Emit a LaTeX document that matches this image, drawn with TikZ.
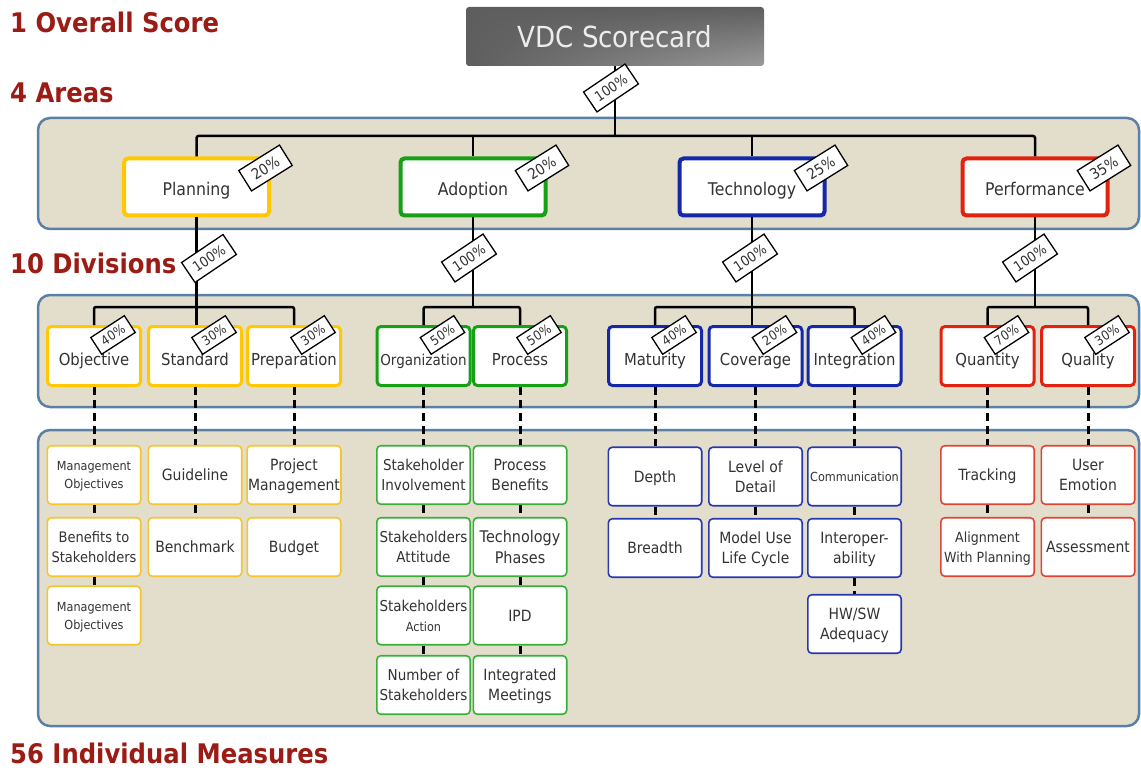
\documentclass[tikz,border=0pt]{standalone}
\usepackage{fontspec}
\setmainfont{DejaVu Sans}[FakeStretch=0.9]
\usetikzlibrary{calc,shadings}
\definecolor{hdr}{HTML}{9B1B15}
\definecolor{cfill}{HTML}{E3DDCC}
\definecolor{cline}{HTML}{5B80A8}
\definecolor{cyel}{HTML}{FFC800}
\definecolor{cgrn}{HTML}{16A016}
\definecolor{cblu}{HTML}{1428A8}
\definecolor{cred}{HTML}{E0220E}
\definecolor{myel}{HTML}{F5C530}
\definecolor{mgrn}{HTML}{38B038}
\definecolor{mblu}{HTML}{2838B0}
\definecolor{mred}{HTML}{E04434}
\definecolor{txt}{HTML}{333333}
\definecolor{vdcA}{HTML}{5E5E5E}
\definecolor{vdcB}{HTML}{9A9A9A}
\newcommand\fsz[2]{\fontsize{#1}{#2}\selectfont}
\begin{document}
\begin{tikzpicture}[x=1pt,y=-1pt,
  container/.style={draw=cline, line width=2.5pt, fill=cfill, rounded corners=12pt},
  hdrtext/.style={anchor=base west, text=hdr, font=\fsz{27}{32}\bfseries, inner sep=0pt},
  areabox/.style={draw=#1, line width=4pt, fill=white, rounded corners=4pt, minimum width=145pt, minimum height=57pt, font=\fsz{17.5}{21}, text=txt, text height=18pt, text depth=0pt},
  divbox/.style={draw=#1, line width=3pt, fill=white, rounded corners=4pt, minimum width=93pt, minimum height=59pt, font=\fsz{16.5}{20}, inner sep=1pt, text=txt, text height=19pt, text depth=0pt},
  measbox/.style={draw=#1, line width=1.6pt, fill=white, rounded corners=4pt, minimum width=93.4pt, minimum height=58.5pt, font=\fsz{15.5}{20}, align=center, inner sep=1pt, text=txt, text depth=0pt},
  tagbase/.style={draw=black, line width=1.3pt, fill=white, inner sep=0pt, text=black!80},
  areatag/.style={tagbase, rotate=32, minimum width=48pt, minimum height=24pt, font=\fsz{15}{17}},
  widetag/.style={tagbase, rotate=34, minimum width=50pt, minimum height=24pt, font=\fsz{14}{16}},
  divtag/.style={tagbase, rotate=33, minimum width=40pt, minimum height=20pt, font=\fsz{13}{15}},
  bus/.style={line width=2.5pt, black},
  dashline/.style={line width=3pt, black, dash pattern=on 8pt off 5pt}
]
\useasboundingbox (0,0) rectangle (1141,770);

% headings
\node[hdrtext] (h1) at (10,33) {1 Overall Score};
\node[hdrtext] (h2) at (10,103) {4 Areas};
\node[hdrtext] (h3) at (10,273) {10 Divisions};
\node[hdrtext] (h4) at (10,763) {56 Individual Measures};

% containers
\draw[container] (38,118) rectangle (1139,229);
\draw[container] (38,295) rectangle (1139,407);
\draw[container] (38,430) rectangle (1139,726);

% top box
\node[shade, upper left=vdcA, upper right=vdcA, lower left=vdcA, lower right=vdcB,
      rounded corners=3pt, minimum width=298pt, minimum height=59pt,
      font=\fsz{29}{34}, text=white!93!black] (vdc) at (615,36.5) {VDC Scorecard};

% areas
\node[areabox=cyel] (planning) at (196.5,187) {Planning};
\node[areabox=cgrn] (adoption) at (473,187) {Adoption};
\node[areabox=cblu] (technology) at (752,187) {Technology};
\node[areabox=cred] (performance) at (1035,187) {Performance};

% divisions
\node[divbox=cyel] (objective) at (94,356) {Objective};
\node[divbox=cyel] (standard) at (195,356) {Standard};
\node[divbox=cyel] (preparation) at (294,356) {Preparation};
\node[divbox=cgrn, font=\fsz{15}{18}] (organization) at (423.5,356) {Organization};
\node[divbox=cgrn] (process) at (520,356) {Process};
\node[divbox=cblu] (maturity) at (655,356) {Maturity};
\node[divbox=cblu] (coverage) at (755.5,356) {Coverage};
\node[divbox=cblu] (integration) at (854.5,356) {Integration};
\node[divbox=cred] (quantity) at (987.5,356) {Quantity};
\node[divbox=cred] (quality) at (1088,356) {Quality};

% measures: planning
\node[measbox=myel, font=\fsz{12.5}{18}] (obj1) at (94,475) {Management\\Objectives};
\node[measbox=myel, font=\fsz{14.5}{20}] (obj2) at (94,547) {Benefits to\\Stakeholders};
\node[measbox=myel, font=\fsz{12.5}{18}] (obj3) at (94,615.5) {Management\\Objectives};
\node[measbox=myel] (std1) at (195,475) {Guideline};
\node[measbox=myel] (std2) at (195,547) {Benchmark};
\node[measbox=myel] (prep1) at (294,475) {Project\\Management};
\node[measbox=myel] (prep2) at (294,547) {Budget};
% adoption
\node[measbox=mgrn, font=\fsz{15}{20}] (org1) at (423.5,475) {Stakeholder\\Involvement};
\node[measbox=mgrn, font=\fsz{15}{20}] (org2) at (423.5,547) {Stakeholders\\Attitude};
\node[measbox=mgrn, font=\fsz{15}{20}] (org3) at (423.5,615.5) {Stakeholders\\{\fsz{12.5}{15}Action}};
\node[measbox=mgrn, font=\fsz{15}{20}] (org4) at (423.5,685) {Number of\\Stakeholders};
\node[measbox=mgrn] (proc1) at (520,475) {Process\\Benefits};
\node[measbox=mgrn, font=\fsz{16}{21}] (proc2) at (520,547) {Technology\\Phases};
\node[measbox=mgrn] (proc3) at (520,615.5) {IPD};
\node[measbox=mgrn] (proc4) at (520,685) {Integrated\\Meetings};
% technology
\node[measbox=mblu] (mat1) at (655,476.5) {Depth};
\node[measbox=mblu] (mat2) at (655,548) {Breadth};
\node[measbox=mblu] (cov1) at (755.5,476.5) {Level of\\Detail};
\node[measbox=mblu] (cov2) at (755.5,548) {Model Use\\Life Cycle};
\node[measbox=mblu, font=\fsz{12.5}{16}] (int1) at (854.5,476.5) {Communication};
\node[measbox=mblu] (int2) at (854.5,548) {Interoper-\\ability};
\node[measbox=mblu] (int3) at (854.5,624) {HW/SW\\Adequacy};
% performance
\node[measbox=mred] (qty1) at (987.5,475) {Tracking};
\node[measbox=mred, font=\fsz{14}{20}] (qty2) at (987.5,547) {Alignment\\With Planning};
\node[measbox=mred] (qual1) at (1088,475) {User\\Emotion};
\node[measbox=mred] (qual2) at (1088,547) {Assessment};

% solid connectors
\coordinate (topbus) at (615,136);
\draw[bus] (vdc.south) -- (topbus);
\draw[bus, rounded corners=2pt] (planning.north) |- (topbus) -| (performance.north);
\draw[bus] (adoption.north) -- (adoption.north |- topbus);
\draw[bus] (technology.north) -- (technology.north |- topbus);

\coordinate (pbus) at (196.5,307);
\coordinate (abus) at (473,307);
\coordinate (tbus) at (752,307);
\coordinate (fbus) at (1035,307);
\draw[bus] (planning.south) -- (planning.south |- standard.north);
\draw[bus, rounded corners=2pt] (objective.north) |- (pbus) -| (preparation.north);
\draw[bus] (adoption.south) -- (abus);
\draw[bus, rounded corners=2pt] (organization.north) |- (abus) -| (process.north);
\draw[bus] (technology.south) -- (technology.south |- coverage.north);
\draw[bus, rounded corners=2pt] (maturity.north) |- (tbus) -| (integration.north);
\draw[bus] (performance.south) -- (fbus);
\draw[bus, rounded corners=2pt] (quantity.north) |- (fbus) -| (quality.north);

% dashed connectors
\foreach \a/\b in {objective/obj1, obj1/obj2, obj2/obj3, standard/std1, std1/std2,
  preparation/prep1, prep1/prep2, organization/org1, org1/org2, org2/org3, org3/org4,
  process/proc1, proc1/proc2, proc2/proc3, proc3/proc4, maturity/mat1, mat1/mat2,
  coverage/cov1, cov1/cov2, integration/int1, int1/int2, int2/int3,
  quantity/qty1, qty1/qty2, quality/qual1, qual1/qual2}
  \draw[dashline] (\a.south) -- (\b.north);

% percentage tags
\node[widetag] (t0) at (611,88) {100\%};
\node[areatag] (ta1) at ($(planning.north east)+(-5.5,11.5)$) {20\%};
\node[areatag] (ta2) at ($(adoption.north east)+(-5.5,11.5)$) {20\%};
\node[areatag] (ta3) at ($(technology.north east)+(-5.5,11.5)$) {25\%};
\node[areatag] (ta4) at ($(performance.north east)+(-5.5,11.5)$) {35\%};
\node[widetag] (tb1) at (209,258.5) {100\%};
\node[widetag] (tb2) at (469,258) {100\%};
\node[widetag] (tb3) at (750,258) {100\%};
\node[widetag] (tb4) at (1030,258) {100\%};
\node[divtag] (td1) at ($(objective.north)+(19,10)$) {40\%};
\node[divtag] (td2) at ($(standard.north)+(19,10)$) {30\%};
\node[divtag] (td3) at ($(preparation.north)+(19,10)$) {30\%};
\node[divtag] (td4) at ($(organization.north)+(19,10)$) {50\%};
\node[divtag] (td5) at ($(process.north)+(19,10)$) {50\%};
\node[divtag] (td6) at ($(maturity.north)+(19,10)$) {40\%};
\node[divtag] (td7) at ($(coverage.north)+(19,10)$) {20\%};
\node[divtag] (td8) at ($(integration.north)+(19,10)$) {40\%};
\node[divtag] (td9) at ($(quantity.north)+(19,10)$) {70\%};
\node[divtag] (td10) at ($(quality.north)+(19,10)$) {30\%};
\end{tikzpicture}
\end{document}
